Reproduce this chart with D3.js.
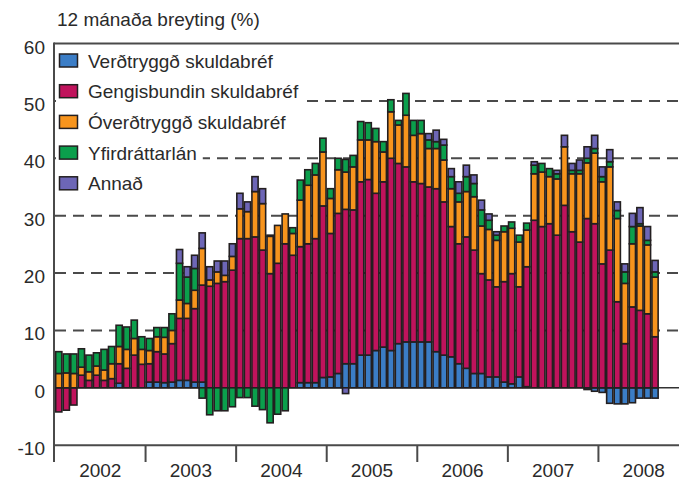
<!DOCTYPE html>
<html><head><meta charset="utf-8">
<script src="https://cdn.jsdelivr.net/npm/d3@7"></script>
<style>body{margin:0;background:#fff}svg{display:block}</style>
</head><body>
<script>
const years = ["2002","2003","2004","2005","2006","2007","2008"];
const yTicks = [-10,0,10,20,30,40,50,60];
const gridValues = [10,20,30,40,50];
const seriesNames = ["Verðtryggð skuldabréf","Gengisbundin skuldabréf","Óverðtryggð skuldabréf","Yfirdráttarlán","Annað"];
const seriesColors = ["#3b7dc6","#c0135c","#f7941d","#0b9f4c","#6d66b6"];

const verdtryggd = [0,0,0,0,0,0,0,0,0.8,0,0,0,
 1.0,1.0,0.9,1.0,1.3,1.3,1.0,1.0,0,0,0,0,
 0,0,0,0,0,0,0,0,0.9,0.9,0.9,1.8,
 1.9,2.5,4.2,4.2,5.7,5.7,6.5,7.1,6.5,7.7,8.0,8.0,
 8.0,8.0,6.3,5.7,5.4,4.2,3.4,2.5,2.5,1.9,1.9,1.0,
 0.7,1.9,0.2,0,0,0,0,0,0,0,-0.3,-0.6,
 -0.8,-2.7,-2.8,-2.8,-2.6,-1.8,-1.8,-1.8];
const gengisbundin = [-4.2,-3.9,-3.0,2.2,1.3,2.2,1.3,1.6,3.4,3.4,5.7,4.1,
 3.2,5.3,5.0,6.7,10.8,10.8,12.8,16.9,17.7,18.2,18.5,20.5,
 26.0,26.0,26.3,24.0,19.9,21.7,25.1,23.1,23.7,24.2,25.1,29.9,
 25.0,27.9,26.9,26.8,30.2,30.6,27.4,28.8,33.5,31.4,30.5,27.9,
 27.6,27.0,28.4,26.7,22.7,20.9,22.9,21.5,17.4,16.9,15.7,17.5,
 19.2,15.7,20.9,29.2,28.1,28.6,26.6,31.8,27.2,25.4,29.5,28.6,
 21.6,24.0,15.0,7.7,14.1,13.5,12.9,8.9];
const overdtryggd = [2.5,2.6,2.5,1.4,1.5,1.6,1.8,2.6,3.0,3.3,2.9,2.6,
 2.3,2.6,2.9,2.3,3.2,2.6,3.2,6.4,1.1,2.0,1.1,2.4,
 5.2,4.7,7.9,8.1,6.5,6.6,5.2,3.8,8.1,10.2,11.1,9.4,
 6.1,7.6,6.5,7.5,7.3,6.9,9.0,5.2,8.1,6.7,9.0,8.1,
 8.7,6.7,7.0,7.3,6.6,7.3,7.9,9.3,8.3,8.8,8.1,8.7,
 7.9,7.8,6.4,8.1,9.5,8.2,9.8,10.2,10.1,11.9,9.7,12.3,
 14.3,14.5,14.5,10.5,11.0,14.7,12.0,10.4];
const yfirdrattarlan = [3.8,3.3,3.4,3.2,2.9,2.3,3.6,3.0,3.7,3.9,3.2,2.2,
 2.1,1.6,1.7,2.9,6.4,4.6,3.8,-1.8,-4.7,-4.0,-4.0,-3.3,
 -1.7,-1.7,-3.2,-3.8,-6.1,-4.6,-4.0,1.0,3.5,2.7,2.0,2.4,
 1.7,2.0,2.2,2.0,3.2,3.0,2.3,1.8,2.1,0.8,3.8,2.6,
 2.3,1.5,1.2,2.6,2.1,1.5,2.6,2.3,2.8,1.6,0.9,1.0,
 1.1,1.2,1.2,1.5,1.5,1.4,0.9,0,0.6,0.6,0.8,0.8,
 0.9,0.9,1.4,2.0,3.0,0.4,0.8,0.9];
const annad = [0,0,0,0,0,0,0,0,0,0,0,0,
 0,0,0,0,2.4,1.8,2.3,2.7,2.3,1.9,2.5,2.2,
 2.7,1.7,2.6,2.6,0.2,0,0,0,0,0,0,0,
 0,0,-1.0,0,0,0,0,0,0,0,0,0,
 0,1.1,2.0,1.0,1.4,2.0,2.0,1.5,1.7,1.1,0.6,0,
 0,0,0,0.6,0,0,0.6,2.0,1.2,1.8,2.0,2.3,
 1.7,2.1,1.5,1.4,2.3,2.8,2.4,2.0];

const seriesValues = [verdtryggd, gengisbundin, overdtryggd, yfirdrattarlan, annad];
const allMonths = years.flatMap(y => d3.range(1, 13).map(m => y + "-" + m));
const dataMonths = allMonths.slice(0, verdtryggd.length);
const keys = ["k0","k1","k2","k3","k4"];
const table = dataMonths.map((m, i) => {
  const row = {month: m};
  keys.forEach((k, s) => row[k] = seriesValues[s][i]);
  return row;
});

const W = 679, H = 481;
const svg = d3.select("body").append("svg").attr("width", W).attr("height", H)
  .style("font-family", "'Liberation Sans', Arial, sans-serif");

const x = d3.scaleBand().domain(allMonths).range([55, 689]).paddingInner(0.18).paddingOuter(0.09);
const y = d3.scaleLinear().domain([-10, 60]).range([445.2, 43.5]);
const axisColor = "#4a4a4a";
const textColor = "#2a2a2a";

// gridlines
svg.append("g").selectAll("line").data(gridValues).join("line")
  .attr("x1", 55).attr("x2", W).attr("y1", d => y(d)).attr("y2", d => y(d))
  .attr("stroke", axisColor).attr("stroke-width", 2).attr("stroke-dasharray", "11,7");
// zero line
svg.append("line").attr("x1", 54).attr("x2", W).attr("y1", y(0)).attr("y2", y(0))
  .attr("stroke", "#333").attr("stroke-width", 1.5);

// bars
const stacked = d3.stack().keys(keys).offset(d3.stackOffsetDiverging)(table);
const barG = svg.append("g");
stacked.forEach((layer, s) => {
  barG.append("g").selectAll("rect")
    .data(layer.filter(d => d[1] !== d[0]))
    .join("rect")
    .attr("x", d => x(d.data.month))
    .attr("width", x.bandwidth())
    .attr("y", d => y(Math.max(d[0], d[1])))
    .attr("height", d => Math.abs(y(d[0]) - y(d[1])))
    .attr("fill", seriesColors[s])
    .attr("stroke", "#231f20").attr("stroke-width", 1.6);
});

// legend
const lg = svg.append("g");
seriesNames.forEach((name, i) => {
  const cy = 60.5 + i * 30.7;
  const bg = lg.append("rect").attr("fill", "#fff");
  lg.append("rect").attr("x", 59.5).attr("y", cy - 6.5).attr("width", 18).attr("height", 13)
    .attr("fill", seriesColors[i]).attr("stroke", "#231f20").attr("stroke-width", 1.5);
  const t = lg.append("text").attr("x", 88).attr("y", cy + 7).attr("font-size", 19)
    .attr("fill", textColor).text(name);
  const w = t.node().getComputedTextLength();
  bg.attr("x", 56).attr("y", cy - 15).attr("width", 88 + w + 6 - 56).attr("height", 30.7);
});

// frame / axes
svg.append("line").attr("x1", 54).attr("x2", W).attr("y1", y(60)).attr("y2", y(60))
  .attr("stroke", axisColor).attr("stroke-width", 2);
svg.append("line").attr("x1", 54).attr("x2", W).attr("y1", y(-10)).attr("y2", y(-10))
  .attr("stroke", axisColor).attr("stroke-width", 2);
svg.append("line").attr("x1", 54).attr("x2", 54).attr("y1", y(60) - 1).attr("y2", 462)
  .attr("stroke", axisColor).attr("stroke-width", 2);

// year ticks
const boundary = yr => x(yr + "-1") - x.step() * x.paddingInner() / 2;
svg.append("g").selectAll("line").data(years.slice(1)).join("line")
  .attr("x1", d => boundary(d)).attr("x2", d => boundary(d))
  .attr("y1", y(-10)).attr("y2", 462)
  .attr("stroke", axisColor).attr("stroke-width", 2);
svg.append("g").selectAll("text").data(years).join("text")
  .attr("x", d => boundary(d) + x.step() * 6)
  .attr("y", 477).attr("text-anchor", "middle").attr("font-size", 19).attr("fill", textColor)
  .text(d => d);

// y labels
svg.append("g").selectAll("text").data(yTicks).join("text")
  .attr("x", 45).attr("y", d => y(d) + 10).attr("text-anchor", "end")
  .attr("font-size", 19).attr("fill", textColor).text(d => d);

// title
svg.append("text").attr("x", 57).attr("y", 26).attr("font-size", 19).attr("fill", textColor)
  .text("12 mánaða breyting (%)");
</script>
</body></html>
